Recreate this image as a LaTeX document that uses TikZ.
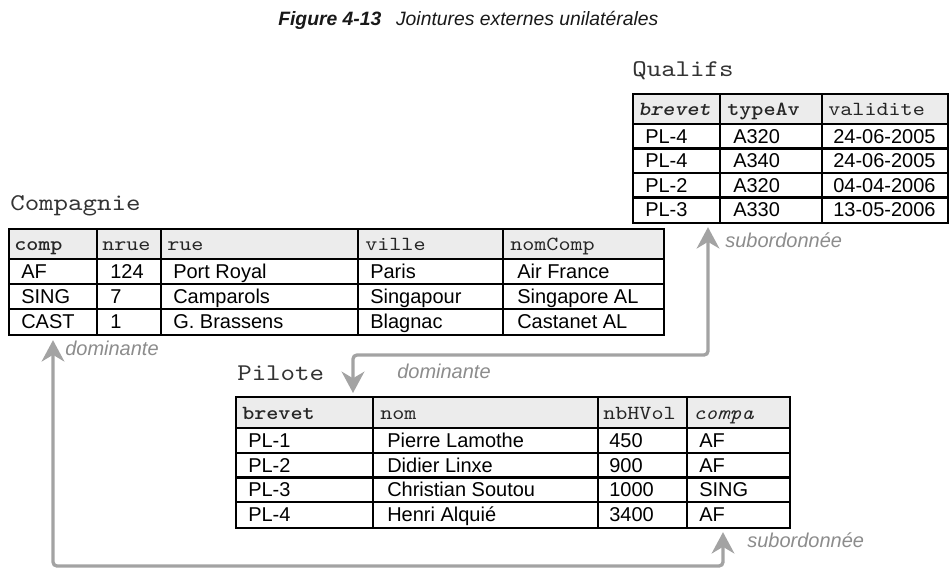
\documentclass[tikz,border=0pt]{standalone}
\usepackage{fontspec}
\setmainfont{Liberation Sans}
\newfontfamily\courfam{lmmono10-regular.otf}[
  BoldFont=lmmonolt10-bold.otf,
  ItalicFont=lmmono10-italic.otf,
  BoldItalicFont=lmmonolt10-boldoblique.otf,
  FakeStretch=1.15]
\usetikzlibrary{arrows.meta,calc}
\definecolor{hdrfill}{HTML}{ECECEC}
\definecolor{arrgray}{HTML}{A3A3A3}
\definecolor{lblgray}{HTML}{8C8C8C}
\definecolor{tnamecol}{HTML}{333333}
\begin{document}
\begin{tikzpicture}[x=0.75pt,y=-0.75pt,
  gridline/.style={line width=1.6pt, draw=black},
  tbl/.style={draw=black, line width=1.6pt, inner sep=0pt, anchor=north west},
  hdr/.style={anchor=base west, inner sep=0pt, font=\courfam\fontsize{15}{15}\selectfont, text=black!85},
  dat/.style={anchor=base west, inner sep=0pt, font=\fontsize{15}{15}\selectfont, text=black},
  tname/.style={anchor=base west, inner sep=0pt, font=\courfam\fontsize{18}{18}\selectfont, text=tnamecol},
  role/.style={anchor=base west, inner sep=0pt, font=\itshape\fontsize{15}{15}\selectfont, text=lblgray},
  conn/.style={draw=arrgray, line width=2.5pt, rounded corners=3pt,
    {Stealth[length=16pt,width=17pt,inset=5pt]}-{Stealth[length=16pt,width=17pt,inset=5pt]}},
]
\useasboundingbox (0,0) rectangle (949,569);

% Title
\node[anchor=base west, inner sep=0pt, text=black!90, font=\itshape\fontsize{14.5}{14.5}\selectfont] (title) at (278,25)
  {\textbf{Figure 4-13}\hspace{11pt}Jointures externes unilatérales};

% ---------------- Qualifs ----------------
\node[tname] (lqual) at (632,76) {Qualifs};
\fill[hdrfill] (632,93) rectangle (947,124);
\node[tbl, minimum width=236.25pt, minimum height=96.75pt] (qual) at (632,93) {};
\foreach \xx in {720,822} \draw[gridline] (\xx,93) -- (\xx,222);
\foreach \yy in {124,148.5,173,197.5} \draw[gridline] (632,\yy) -- (947,\yy);
\node[hdr] (qh1) at (638,115.5) {\textbf{\textit{brevet}}};
\node[hdr] (qh2) at (727,115.5) {\textbf{typeAv}};
\node[hdr] (qh3) at (828,115.5) {validite};
\foreach \r/\yy/\a/\b/\c in {1/143.25/PL-4/A320/24-06-2005, 2/167.75/PL-4/A340/24-06-2005,
    3/192.25/PL-2/A320/04-04-2006, 4/216.75/PL-3/A330/13-05-2006}{
  \node[dat] (q\r a) at (645,\yy) {\a};
  \node[dat] (q\r b) at (733,\yy) {\b};
  \node[dat] (q\r c) at (833,\yy) {\c};
}

% ---------------- Compagnie ----------------
\node[tname] (lcomp) at (10,210) {Compagnie};
\fill[hdrfill] (8,228) rectangle (663,259);
\node[tbl, minimum width=491.25pt, minimum height=79.5pt] (comp) at (8,228) {};
\foreach \xx in {97,161,358,503} \draw[gridline] (\xx,228) -- (\xx,334);
\foreach \yy in {259,284,309} \draw[gridline] (8,\yy) -- (663,\yy);
\node[hdr] (ch1) at (14,250.5) {\textbf{comp}};
\node[hdr] (ch2) at (102,250.5) {nrue};
\node[hdr] (ch3) at (167,250.5) {rue};
\node[hdr] (ch4) at (365,250.5) {ville};
\node[hdr] (ch5) at (510,250.5) {nomComp};
\foreach \r/\yy/\a/\b/\c/\d/\e in {1/278.5/AF/124/Port Royal/Paris/Air France,
    2/303.5/SING/7/Camparols/Singapour/Singapore AL,
    3/328.5/CAST/1/G. Brassens/Blagnac/Castanet AL}{
  \node[dat] (c\r a) at (21,\yy) {\a};
  \node[dat] (c\r b) at (110,\yy) {\b};
  \node[dat] (c\r c) at (173,\yy) {\c};
  \node[dat] (c\r d) at (370,\yy) {\d};
  \node[dat] (c\r e) at (517,\yy) {\e};
}

% ---------------- Pilote ----------------
\node[tname] (lpil) at (237,380) {Pilote};
\fill[hdrfill] (235,396) rectangle (789,428);
\node[tbl, minimum width=415.5pt, minimum height=98.25pt] (pil) at (235,396) {};
\foreach \xx in {373,598,687} \draw[gridline] (\xx,396) -- (\xx,527);
\foreach \yy in {428,452.75,477.5,502.25} \draw[gridline] (235,\yy) -- (789,\yy);
\node[hdr] (ph1) at (242,419) {\textbf{brevet}};
\node[hdr] (ph2) at (380,419) {nom};
\node[hdr] (ph3) at (603,419) {nbHVol};
\node[hdr] (ph4) at (693,419) {\textit{compa}};
\foreach \r/\yy/\a/\b/\c/\d in {1/447.4/PL-1/Pierre Lamothe/450/AF,
    2/472.1/PL-2/Didier Linxe/900/AF,
    3/496.9/PL-3/Christian Soutou/1000/SING,
    4/521.6/PL-4/Henri Alquié/3400/AF}{
  \node[dat] (p\r a) at (248,\yy) {\a};
  \node[dat] (p\r b) at (387,\yy) {\b};
  \node[dat] (p\r c) at (609,\yy) {\c};
  \node[dat] (p\r d) at (699,\yy) {\d};
}

% ---------------- Connectors ----------------
\coordinate (mid) at (0,355);
\coordinate (low) at (0,566);
\coordinate (qa) at ($(qual.south west)+(76,3)$);
\coordinate (pa) at ($(pil.north west)+(118,-3)$);
\coordinate (ca) at ($(comp.south west)+(45,4)$);
\coordinate (pb) at ($(pil.south west)+(488,3)$);
\draw[conn] (qa) -- (qa |- mid) -| (pa);
\draw[conn] (ca) -- (ca |- low) -| (pb);

\node[role] (r1) at (725,247) {subordonnée};
\node[role] (r2) at (397,378) {dominante};
\node[role] (r3) at (65,355) {dominante};
\node[role] (r4) at (747,547) {subordonnée};
\end{tikzpicture}
\end{document}
